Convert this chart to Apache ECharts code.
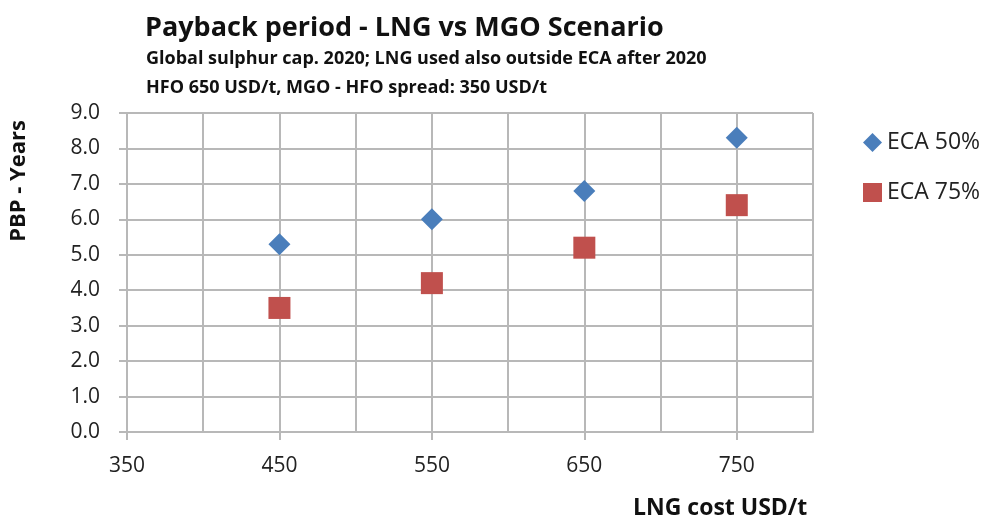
<!DOCTYPE html>
<html>
<head>
<meta charset="utf-8">
<script src="https://cdn.jsdelivr.net/npm/echarts@6/dist/echarts.min.js"></script>
<style>
  html, body { margin: 0; padding: 0; background: #fff; }
  #chart { width: 983px; height: 526px; }
</style>
</head>
<body>
<div id="chart"></div>
<script>
// LNG 价格（x 轴）
const lngCost = [450, 550, 650, 750]
// 回收期（年）
const eca50 = [5.3, 6.0, 6.8, 8.3]
const eca75 = [3.5, 4.2, 5.2, 6.4]
// x 轴刻度标签
const xLabels = [350, 450, 550, 650, 750]

const font = 'Open Sans, sans-serif'
const gridColor = '#b8b8b8'
const lineStyle = { color: gridColor, width: 2 }

const chart = echarts.init(document.getElementById('chart'))
chart.setOption({
  backgroundColor: '#fff',
  animation: false,
  title: [{
    text: 'Payback period - LNG vs MGO Scenario',
    left: 140,
    top: 10,
    textStyle: { fontFamily: font, fontSize: 27, fontWeight: 'bold', color: '#111' }
  }, {
    text: 'Global sulphur cap. 2020; LNG used also outside ECA after 2020',
    left: 141,
    top: 45,
    textStyle: { fontFamily: font, fontSize: 18, fontWeight: 'bold', color: '#111' }
  }, {
    text: 'HFO 650 USD/t, MGO - HFO spread: 350 USD/t',
    left: 141,
    top: 74,
    textStyle: { fontFamily: font, fontSize: 18, fontWeight: 'bold', color: '#111' }
  }],
  graphic: [{
    type: 'text',
    left: 8,
    top: 120,
    rotation: Math.PI / 2,
    style: { text: 'PBP - Years', font: 'bold 22px ' + font, fill: '#111' }
  }, {
    type: 'text',
    left: 633,
    top: 497,
    style: { text: 'LNG cost USD/t', font: 'bold 23px ' + font, fill: '#111' }
  }],
  legend: {
    orient: 'vertical',
    left: 858,
    top: 126,
    itemGap: 27,
    itemWidth: 19,
    itemHeight: 19,
    textStyle: { fontFamily: font, fontSize: 23, color: '#222' },
    data: [
      { name: 'ECA 50%', icon: 'diamond' },
      { name: 'ECA 75%', icon: 'rect' }
    ]
  },
  grid: { left: 127, top: 113, width: 686, height: 319 },
  xAxis: [{
    type: 'value',
    min: 350,
    max: 800,
    interval: 50,
    axisLine: { show: true, lineStyle },
    axisTick: { show: false },
    axisLabel: {
      margin: 24,
      fontFamily: font,
      fontSize: 21,
      color: '#222',
      formatter: v => (xLabels.includes(v) ? String(v) : '')
    },
    splitLine: { show: true, lineStyle }
  }, {
    type: 'value',
    min: 350,
    max: 800,
    position: 'bottom',
    axisLine: { show: false },
    axisTick: { show: true, customValues: xLabels, length: 8, lineStyle },
    axisLabel: { show: false },
    splitLine: { show: false }
  }],
  yAxis: {
    type: 'value',
    min: 0,
    max: 9,
    interval: 1,
    axisLine: { show: true, lineStyle },
    axisTick: { show: true, length: 8, lineStyle },
    axisLabel: {
      margin: 27,
      fontFamily: font,
      fontSize: 21,
      color: '#222',
      formatter: v => v.toFixed(1)
    },
    splitLine: { show: true, lineStyle }
  },
  series: [{
    name: 'ECA 50%',
    type: 'scatter',
    symbol: 'diamond',
    symbolSize: 22,
    itemStyle: { color: '#4a7ebb', opacity: 1 },
    data: lngCost.map((x, i) => [x, eca50[i]])
  }, {
    name: 'ECA 75%',
    type: 'scatter',
    symbol: 'rect',
    symbolSize: 22,
    itemStyle: { color: '#c0504d', opacity: 1 },
    data: lngCost.map((x, i) => [x, eca75[i]])
  }]
})
</script>
</body>
</html>
